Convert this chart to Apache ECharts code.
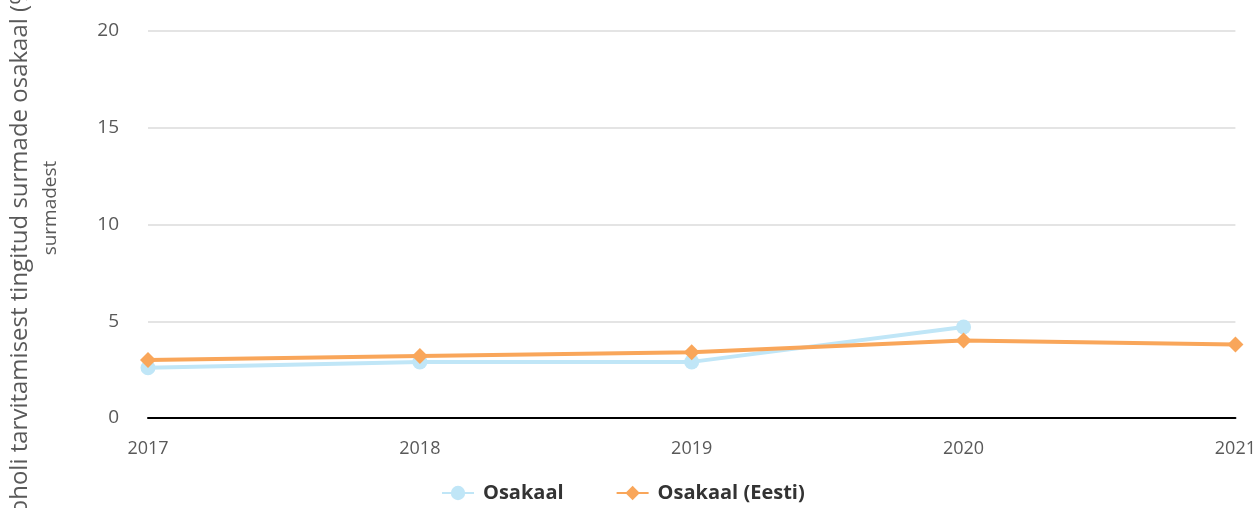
<!DOCTYPE html>
<html>
<head>
<meta charset="utf-8">
<script src="https://cdn.jsdelivr.net/npm/echarts@6/dist/echarts.min.js"></script>
<style>
    html, body { margin: 0; padding: 0; background: #fff; }
    #chart { width: 1259px; height: 508px; }
</style>
</head>
<body>
<div id="chart"></div>
<script>
var years = ['2017', '2018', '2019', '2020', '2021'];
var osakaal = [2.6, 2.9, 2.9, 4.7, null];
var osakaalEesti = [3.0, 3.2, 3.4, 4.0, 3.8];
var yTicks = [0, 5, 10, 15, 20];

var font = '"Open Sans", "Noto Sans", sans-serif';

var option = {
    animation: false,
    grid: {
        left: 148,
        right: 4,
        top: 31,
        bottom: 90
    },
    legend: {
        bottom: 0,
        left: 436,
        itemGap: 52,
        itemWidth: 32,
        itemHeight: 18,
        textStyle: {
            fontFamily: font,
            fontSize: 20,
            fontWeight: 'bold',
            color: '#333',
            padding: [0, 0, 0, 4]
        },
        data: ['Osakaal', 'Osakaal (Eesti)']
    },
    xAxis: {
        type: 'category',
        boundaryGap: false,
        data: years,
        axisLine: { lineStyle: { color: '#000', width: 2 } },
        axisTick: { show: false },
        axisLabel: {
            fontFamily: font,
            fontSize: 18,
            color: '#595959',
            margin: 22
        }
    },
    yAxis: {
        type: 'value',
        min: yTicks[0],
        max: yTicks[yTicks.length - 1],
        interval: 5,
        axisLine: { show: false },
        axisTick: { show: false },
        splitLine: { lineStyle: { color: '#e4e4e4', width: 2 } },
        axisLabel: {
            fontFamily: font,
            fontSize: 19,
            color: '#595959',
            margin: 29
        }
    },
    graphic: [
        {
            type: 'text',
            x: 8,
            y: 263,
            rotation: Math.PI / 2,
            style: {
                text: 'Alkoholi tarvitamisest tingitud surmade osakaal (%)',
                font: '24px "Open Sans", "Noto Sans", sans-serif',
                fill: '#595959',
                align: 'center',
                verticalAlign: 'top'
            }
        },
        {
            type: 'text',
            x: 41,
            y: 208,
            rotation: Math.PI / 2,
            style: {
                text: 'surmadest',
                font: '19px "Open Sans", "Noto Sans", sans-serif',
                fill: '#595959',
                align: 'center',
                verticalAlign: 'top'
            }
        }
    ],
    series: [
        {
            name: 'Osakaal',
            type: 'line',
            data: osakaal,
            symbol: 'circle',
            symbolSize: 15,
            itemStyle: { color: '#c0e6f7' },
            lineStyle: { color: '#c0e6f7', width: 4 },
            z: 2
        },
        {
            name: 'Osakaal (Eesti)',
            type: 'line',
            data: osakaalEesti,
            symbol: 'diamond',
            symbolSize: 16,
            itemStyle: { color: '#f9a65a' },
            lineStyle: { color: '#f9a65a', width: 4 },
            z: 3
        }
    ]
};

var chart = echarts.init(document.getElementById('chart'));
chart.setOption(option);
</script>
</body>
</html>
